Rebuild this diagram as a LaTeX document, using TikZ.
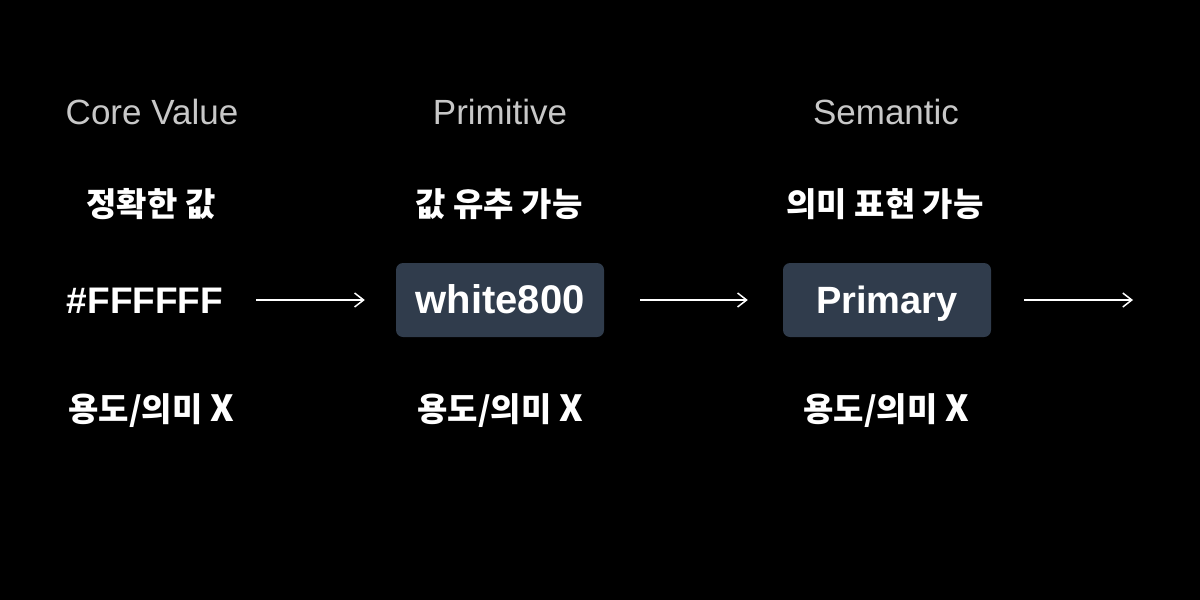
\documentclass[tikz,border=0pt]{standalone}
\usepackage{fontspec}
\usetikzlibrary{arrows.meta}
\setmainfont{Liberation Sans}
\newfontfamily\kr{Noto Sans CJK KR}
\newcommand{\latX}{{\fontsize{36}{40}\selectfont X}}
\definecolor{titlegray}{HTML}{C8C8C8}
\definecolor{boxfill}{HTML}{303C4C}
\begin{document}
\begin{tikzpicture}[x=1pt,y=-1pt,
  title/.style={text=titlegray, font=\fontsize{35}{40}\selectfont, anchor=base, inner sep=0pt},
  ko/.style={text=white, font=\kr\bfseries\fontsize{33}{38}\selectfont, anchor=base, inner sep=0pt},
  val/.style={text=white, font=\bfseries\fontsize{37}{44}\selectfont, inner sep=0pt, text height=26pt, text depth=0pt},
  tokbox/.style={fill=boxfill, rounded corners=7pt, minimum width=208pt, minimum height=74pt,
    inner sep=0pt, text=white, text height=26pt, text depth=0pt},
  flow/.style={draw=white, line width=1.5pt, -{Straight Barb[length=9pt,width=14pt]}}]
\fill[black] (0,0) rectangle (1200,600);
\useasboundingbox (0,0) rectangle (1200,600);
% titles
\node[title] (t1) at (152,124) {Core Value};
\node[title] (t2) at (500,124) {Primitive};
\node[title] (t3) at (886,124) {Semantic};
% korean descriptions
\node[ko] (d1) at (151,216) {정확한 값};
\node[ko] (d2) at (499,216) {값 유추 가능};
\node[ko] (d3) at (885,216) {의미 표현 가능};
% values
\node[val] (hex) at (145,300) {\#FFFFFF};
\node[tokbox, font=\bfseries\fontsize{40}{46}\selectfont] (b1) at (500,300) {white800};
\node[tokbox, font=\bfseries\fontsize{38}{44}\selectfont] (b2) at (887,300) {Primary};
\coordinate (end) at (1133,300);
% bottom row
\node[ko] (u1) at (151,421) {용도/의미 \latX};
\node[ko] (u2) at (500,421) {용도/의미 \latX};
\node[ko] (u3) at (886,421) {용도/의미 \latX};
% arrows
\draw[flow, shorten <=33pt, shorten >=31pt] (hex.east) -- (b1.west);
\draw[flow, shorten <=36pt, shorten >=35pt] (b1.east) -- (b2.west);
\draw[flow, shorten <=33pt] (b2.east) -- (end);
\end{tikzpicture}
\end{document}
